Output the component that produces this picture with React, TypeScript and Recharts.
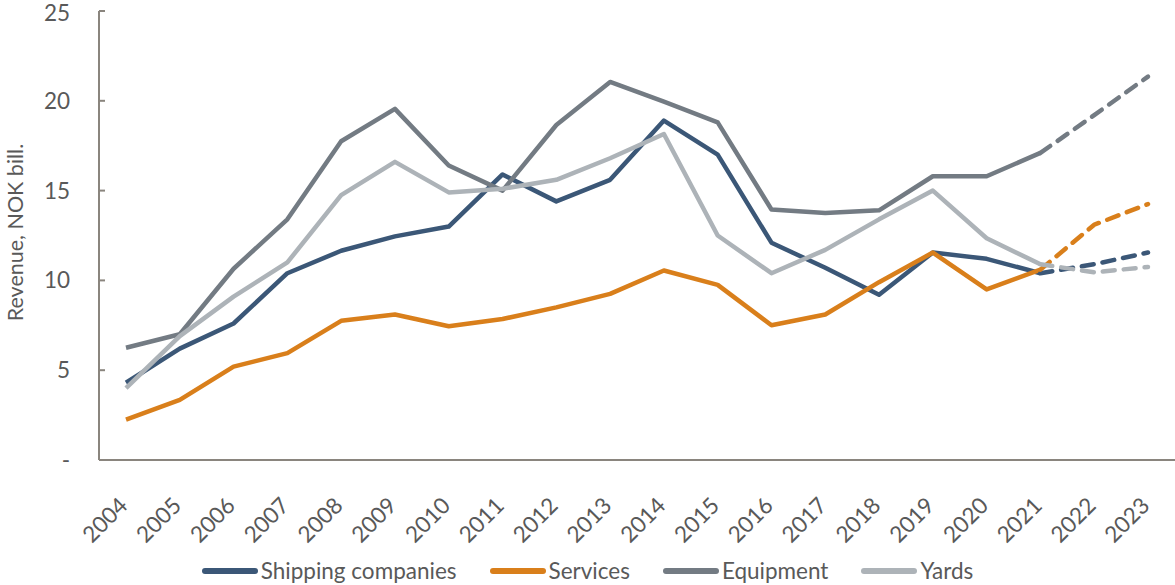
import { LineChart, Line, XAxis, YAxis } from "recharts";

if (typeof document !== "undefined") document.body.style.margin = "0";

const YEARS = [
  "2004", "2005", "2006", "2007", "2008", "2009", "2010", "2011", "2012", "2013",
  "2014", "2015", "2016", "2017", "2018", "2019", "2020", "2021", "2022", "2023",
];

// actuals 2004-2021
const SHIPPING = [4.3, 6.2, 7.6, 10.4, 11.65, 12.45, 13.0, 15.9, 14.4, 15.6, 18.9, 17.0, 12.1, 10.7, 9.2, 11.55, 11.2, 10.4];
const SERVICES = [2.25, 3.35, 5.2, 5.95, 7.75, 8.1, 7.45, 7.85, 8.5, 9.25, 10.55, 9.75, 7.5, 8.1, 9.9, 11.55, 9.5, 10.6];
const EQUIPMENT = [6.25, 7.0, 10.65, 13.4, 17.75, 19.55, 16.4, 15.0, 18.65, 21.05, 19.95, 18.8, 13.95, 13.75, 13.9, 15.8, 15.8, 17.1];
const YARDS = [4.0, 6.9, 9.1, 11.0, 14.75, 16.6, 14.9, 15.1, 15.6, 16.8, 18.15, 12.5, 10.4, 11.7, 13.4, 15.0, 12.35, 10.9];

// forecast 2021-2023 (dashed)
const SHIPPING_F = [10.4, 10.9, 11.55];
const SERVICES_F = [10.6, 13.1, 14.25];
const EQUIPMENT_F = [17.1, 19.2, 21.35];
const YARDS_F = [10.9, 10.45, 10.75];

const Y_TICKS = [0, 5, 10, 15, 20, 25];

const SERIES = [
  { key: "shipping", name: "Shipping companies", color: "#3b5777", actual: SHIPPING, forecast: SHIPPING_F },
  { key: "services", name: "Services", color: "#d97f1b", actual: SERVICES, forecast: SERVICES_F },
  { key: "equipment", name: "Equipment", color: "#737b83", actual: EQUIPMENT, forecast: EQUIPMENT_F },
  { key: "yards", name: "Yards", color: "#adb3b8", actual: YARDS, forecast: YARDS_F },
];

const FORECAST_START = YEARS.length - 3;

const data = YEARS.map((year, i) => {
  const row: Record<string, string | number | null> = { year };
  SERIES.forEach((s) => {
    row[s.key] = i < s.actual.length ? s.actual[i] : null;
    row[s.key + "F"] = i >= FORECAST_START ? s.forecast[i - FORECAST_START] : null;
  });
  return row;
});

const FONT = "Lato, 'Open Sans', sans-serif";
const FS = 22.5;
const TEXT = "#595959";
const AXIS = "#8a857e";

function YearTick({ x, y, payload }: any) {
  return (
    <text
      x={x + 3}
      y={y + 39}
      transform={`rotate(-45, ${x + 3}, ${y + 39})`}
      textAnchor="end"
      fontSize={FS}
      fontFamily={FONT}
      fill={TEXT}
    >
      {payload.value}
    </text>
  );
}

export default function App() {
  return (
    <div style={{ position: "relative", width: 1175, height: 585, background: "#fff" }}>
      <LineChart
        width={1175}
        height={585}
        data={data}
        margin={{ top: 11, right: 0, bottom: 45, left: 0 }}
      >
        <XAxis
          dataKey="year"
          height={80}
          padding={{ left: 27, right: 27 }}
          stroke={AXIS}
          strokeWidth={2}
          tickLine={false}
          tick={<YearTick />}
          interval={0}
        />
        <YAxis
          width={99}
          domain={[0, 25]}
          ticks={Y_TICKS}
          stroke={AXIS}
          strokeWidth={2}
          tickSize={-6}
          tickMargin={35}
          tickFormatter={(v: number) => (v === 0 ? "-" : String(v))}
          tick={{ fontSize: FS, fontFamily: FONT, fill: TEXT }}
          label={{
            content: ({ viewBox }: any) => {
              const cx = 23;
              const cy = viewBox.y + viewBox.height / 2 - 3;
              return (
                <text
                  x={cx}
                  y={cy}
                  transform={`rotate(-90, ${cx}, ${cy})`}
                  textAnchor="middle"
                  fontSize={21.5}
                  fontFamily={FONT}
                  fill={TEXT}
                >
                  Revenue, NOK bill.
                </text>
              );
            },
          }}
        />
        {SERIES.map((s) => (
          <Line
            key={s.key}
            dataKey={s.key}
            name={s.name}
            stroke={s.color}
            strokeWidth={4.5}
            dot={false}
            activeDot={false}
            strokeLinejoin="round"
            isAnimationActive={false}
          />
        ))}
        {SERIES.map((s) => (
          <Line
            key={s.key + "F"}
            dataKey={s.key + "F"}
            stroke={s.color}
            strokeWidth={4.5}
            strokeDasharray="12 9"
            strokeLinecap="round"
            dot={false}
            activeDot={false}
            legendType="none"
            isAnimationActive={false}
          />
        ))}
      </LineChart>
      <div
        style={{
          position: "absolute",
          left: 0,
          top: 556,
          width: 1175,
          display: "flex",
          justifyContent: "center",
          gap: 33,
          fontFamily: FONT,
          fontSize: FS,
          color: TEXT,
          lineHeight: "30px",
        }}
      >
        {SERIES.map((s) => (
          <div key={s.key} style={{ display: "flex", alignItems: "center" }}>
            <svg width={56} height={8} style={{ marginRight: 3 }}>
              <line x1={3} y1={4} x2={53} y2={4} stroke={s.color} strokeWidth={6} strokeLinecap="round" />
            </svg>
            <span>{s.name}</span>
          </div>
        ))}
      </div>
    </div>
  );
}
